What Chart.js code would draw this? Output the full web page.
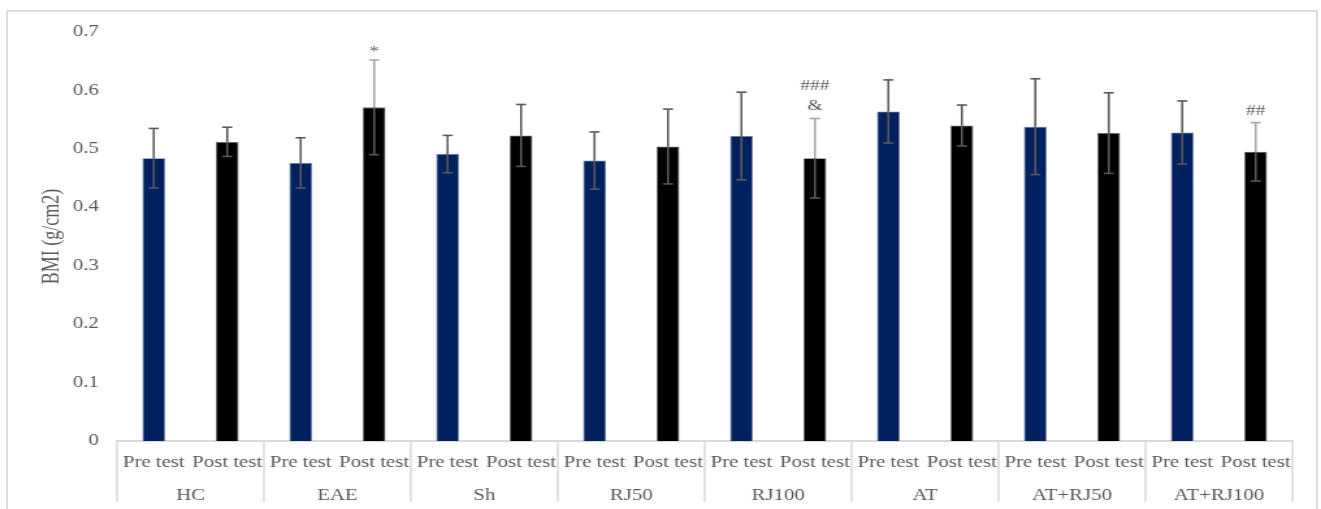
<!DOCTYPE html>
<html>
<head>
<meta charset="utf-8">
<script src="https://cdn.jsdelivr.net/npm/chart.js@4.4.1/dist/chart.umd.min.js"></script>
<style>
  html, body { margin: 0; background: #fff; overflow: hidden; }
  #frame { position: absolute; left: 6px; top: 10px; width: 1312px; height: 540px; box-sizing: border-box; border: 2px solid #dcdcdc; }
  #bmi { position: absolute; left: 0; top: 0; }
</style>
</head>
<body>
<div id="frame"></div>
<canvas id="bmi" width="1016" height="509" style="width:1321px;height:509px"></canvas>
<script>
// ── Data: BMI per group, pre / post test (mean ± SD) ──────────────────────────
const GROUPS = ['HC', 'EAE', 'Sh', 'RJ50', 'RJ100', 'AT', 'AT+RJ50', 'AT+RJ100'];
const PHASES = ['Pre test', 'Post test'];
const MEANS  = [0.484, 0.512,  0.476, 0.571,  0.491, 0.523,  0.480, 0.504,
                0.522, 0.484,  0.564, 0.540,  0.538, 0.527,  0.528, 0.495];
const SDS    = [0.051, 0.025,  0.043, 0.081,  0.032, 0.053,  0.049, 0.064,
                0.075, 0.068,  0.054, 0.035,  0.082, 0.069,  0.054, 0.050];
const MARKS  = ['', '', '', '*', '', '', '', '', '', '###\n&', '', '', '', '', '', '##'];
const Y_TICKS = [0, 0.1, 0.2, 0.3, 0.4, 0.5, 0.6, 0.7];

// The canvas is laid out 1.3x narrower and stretched back by CSS, which gives
// the wide serif lettering of the original figure.
const FONT  = "'Liberation Serif', 'Times New Roman', serif";
const INK   = '#595959';
const RULE  = '#d9d9d9';
const NAVY  = '#002060';
const BLACK = '#000000';
const FAINT_UPPER = new Set([3, 9, 15]);   // bars whose upper whisker is lighter

const labels = GROUPS.flatMap(() => PHASES);
const fills  = labels.map((_, i) => i % 2 ? BLACK : NAVY);
const edges  = labels.map((_, i) => i % 2 ? '#6e6e6e' : '#6a7ca6');

function seg(ctx, x1, y1, x2, y2) {
  ctx.beginPath(); ctx.moveTo(x1, y1); ctx.lineTo(x2, y2); ctx.stroke();
}

// ± SD whiskers and significance marks on top of the bars
const errorBars = {
  id: 'errorBars',
  afterDatasetsDraw(chart) {
    const { ctx, scales: { y } } = chart;
    const bars = chart.getDatasetMeta(0).data;
    const cap = 3.9;
    ctx.save();
    ctx.lineWidth = 1.6;
    bars.forEach((bar, i) => {
      const x   = bar.x;
      const top = y.getPixelForValue(MEANS[i] + SDS[i]);
      const bot = y.getPixelForValue(MEANS[i] - SDS[i]);
      ctx.strokeStyle = FAINT_UPPER.has(i) ? '#a6a6a6' : INK;
      seg(ctx, x, top, x, bar.y);
      seg(ctx, x - cap, top, x + cap, top);
      ctx.strokeStyle = INK;
      seg(ctx, x, bar.y, x, bot);
      seg(ctx, x - cap, bot, x + cap, bot);

      if (MARKS[i]) {
        const lines = MARKS[i].split('\n');
        ctx.fillStyle = INK;
        ctx.font = `15px ${FONT}`;
        ctx.textAlign = 'center';
        ctx.textBaseline = 'alphabetic';
        // sit the lowest glyph a few px above the whisker cap, stack the rest upward
        const last = ctx.measureText(lines[lines.length - 1]);
        const base = top - 8 - last.actualBoundingBoxDescent;
        lines.forEach((t, k) => {
          ctx.fillText(t, x, base - (lines.length - 1 - k) * 20.6);
        });
      }
    });
    ctx.restore();
  }
};

// Second row of category labels with group separators below the axis
const groupAxis = {
  id: 'groupAxis',
  afterDraw(chart) {
    const { ctx, chartArea: area, scales: { x } } = chart;
    const base = area.bottom;
    ctx.save();
    ctx.strokeStyle = RULE;
    ctx.lineWidth = 1.5;
    for (let k = 0; k <= GROUPS.length; k++) {
      const px = k === 0 ? area.left
        : k === GROUPS.length ? area.right
        : (x.getPixelForValue(2 * k - 1) + x.getPixelForValue(2 * k)) / 2;
      seg(ctx, px, base, px, base + 61);
    }
    ctx.fillStyle = INK;
    ctx.font = `16px ${FONT}`;
    ctx.textAlign = 'center';
    ctx.textBaseline = 'alphabetic';
    GROUPS.forEach((g, k) => {
      const cx = (x.getPixelForValue(2 * k) + x.getPixelForValue(2 * k + 1)) / 2;
      ctx.fillText(g, cx, base + 59);
    });
    ctx.restore();
  }
};

new Chart(document.getElementById('bmi'), {
  type: 'bar',
  data: {
    labels,
    datasets: [{
      data: MEANS,
      backgroundColor: fills,
      borderColor: edges,
      borderWidth: 0.8,
      barPercentage: 0.31,
      categoryPercentage: 1,
    }],
  },
  options: {
    responsive: false,
    devicePixelRatio: 1,
    animation: false,
    layout: { padding: { left: 20, right: 22, top: 32, bottom: 0 } },
    plugins: { legend: { display: false }, tooltip: { enabled: false } },
    scales: {
      x: {
        grid: { display: false, drawTicks: false },
        border: { display: true, color: RULE, width: 2 },
        ticks: { color: INK, font: { family: FONT, size: 16 }, padding: 12, autoSkip: false, maxRotation: 0 },
        afterFit: s => { s.height = 68; },
      },
      y: {
        min: 0, max: 0.7,
        grid: { display: false, drawTicks: false },
        border: { display: false },
        afterBuildTicks: s => { s.ticks = Y_TICKS.map(v => ({ value: v })); },
        ticks: { color: INK, font: { family: FONT, size: 16 }, padding: 14,
                 callback: v => v === 0 ? '0' : v.toFixed(1) },
        title: { display: true, text: 'BMI (g/cm2)', color: INK,
                 font: { family: FONT, size: 18 }, padding: { top: 9, bottom: 0 } },
        afterFit: s => { s.width = 70; },
      },
    },
  },
  plugins: [errorBars, groupAxis],
});
</script>
</body>
</html>
